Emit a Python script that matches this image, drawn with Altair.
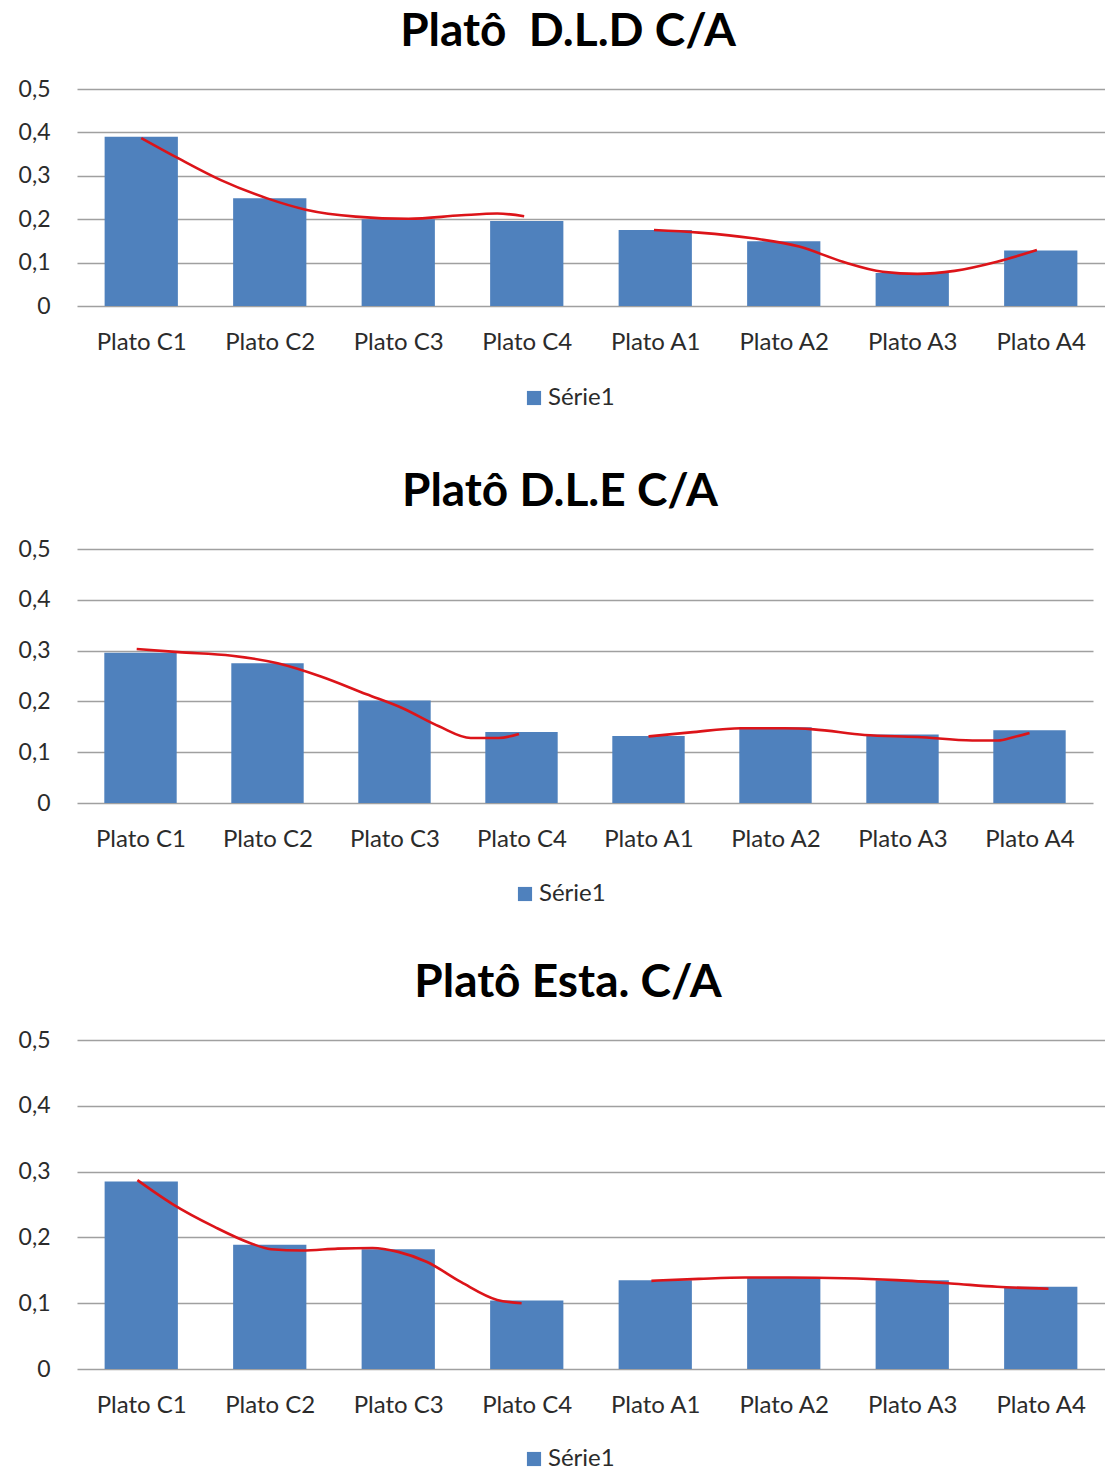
import altair as alt
import pandas as pd

# Category labels along the x axis and the single series name
categories = ["Plato C1", "Plato C2", "Plato C3", "Plato C4",
              "Plato A1", "Plato A2", "Plato A3", "Plato A4"]
series_name = "Série1"

# The first title keeps its double space (a no-break space stops SVG collapsing it)
titles = ["Platô\u00a0 D.L.D C/A", "Platô D.L.E C/A", "Platô Esta. C/A"]

# Bar heights per panel
dld_values = [0.390, 0.248, 0.200, 0.196, 0.175, 0.149, 0.076, 0.128]
dle_values = [0.296, 0.275, 0.202, 0.140, 0.132, 0.149, 0.135, 0.143]
esta_values = [0.285, 0.189, 0.182, 0.104, 0.135, 0.139, 0.135, 0.125]

# Freehand red trend strokes: positions are in category units (0 = Plato C1)
dld_c_pos = [0.0, 0.29, 0.62, 0.98, 1.28, 1.67, 2.08, 2.49, 2.77, 2.98]
dld_c_val = [0.387, 0.340, 0.290, 0.248, 0.222, 0.206, 0.201, 0.209, 0.213, 0.207]
dld_a_pos = [3.99, 4.34, 4.76, 5.12, 5.46, 5.77, 6.04, 6.33, 6.66, 6.97]
dld_a_val = [0.175, 0.169, 0.156, 0.137, 0.102, 0.079, 0.074, 0.081, 0.102, 0.129]

dle_c_pos = [-0.03, 0.30, 0.72, 1.08, 1.42, 1.78, 2.06, 2.35, 2.60, 2.82, 2.98]
dle_c_val = [0.303, 0.297, 0.290, 0.275, 0.249, 0.214, 0.187, 0.151, 0.128, 0.128, 0.136]
dle_a_pos = [4.0, 4.33, 4.73, 5.07, 5.30, 5.70, 6.12, 6.55, 6.75, 6.88, 7.0]
dle_a_val = [0.131, 0.139, 0.147, 0.147, 0.145, 0.134, 0.130, 0.123, 0.123, 0.130, 0.138]

esta_c_pos = [-0.03, 0.24, 0.57, 0.84, 1.01, 1.25, 1.53, 1.80, 2.0, 2.22, 2.49, 2.77, 2.96]
esta_c_val = [0.287, 0.251, 0.216, 0.192, 0.182, 0.180, 0.183, 0.184, 0.178, 0.163, 0.132, 0.105, 0.100]
esta_a_pos = [3.97, 4.34, 4.70, 5.04, 5.47, 5.88, 6.30, 6.66, 7.06]
esta_a_val = [0.134, 0.137, 0.139, 0.139, 0.138, 0.135, 0.130, 0.125, 0.122]

FONT = "Lato"
BAR_BLUE = "#4F81BD"
TREND_RED = "#DC1419"
GRID = "#A0A0A0"
TEXT = "#2B2B2B"

cat_list = "[" + ",".join("'" + c + "'" for c in categories) + "]"
y_label = "datum.value == 0 ? '0' : replace(format(datum.value, '.1f'), '.', ',')"


def panel(title, values, strokes, width, height, legend_x, legend_y, title_dx):
    bars = pd.DataFrame({
        "pos": list(range(len(categories))),
        "category": categories,
        "value": values,
        "serie": series_name,
    })
    rows = []
    for name, (pos, val) in strokes.items():
        for p, v in zip(pos, val):
            rows.append({"pos": p, "value": v, "stroke": name})
    trend = pd.DataFrame(rows)

    x_scale = alt.Scale(domain=[-0.5, len(categories) - 0.5], nice=False, zero=False)
    y_scale = alt.Scale(domain=[0, 0.5], nice=False)
    x_axis = alt.Axis(values=list(range(len(categories))), labelExpr=cat_list + "[datum.value]",
                      grid=False, ticks=False, domain=False, labelFontSize=24,
                      labelColor=TEXT, labelPadding=24, labelFont=FONT, title=None)
    y_axis = alt.Axis(values=[0, 0.1, 0.2, 0.3, 0.4, 0.5], labelExpr=y_label,
                      grid=True, gridColor=GRID, gridWidth=1.5, ticks=False, domain=False,
                      labelFontSize=23, labelColor=TEXT, labelPadding=27,
                      labelFont=FONT, title=None)

    bar_layer = alt.Chart(bars).transform_calculate(
        x0="datum.pos - 0.285", x1="datum.pos + 0.285"
    ).mark_bar(opacity=1).encode(
        x=alt.X("x0:Q", scale=x_scale, axis=x_axis, title=None),
        x2="x1:Q",
        y=alt.Y("value:Q", scale=y_scale, axis=y_axis, title=None),
        y2=alt.datum(0),
        color=alt.Color("serie:N", scale=alt.Scale(range=[BAR_BLUE]),
                        legend=alt.Legend(title=None, orient="none", legendX=legend_x,
                                          legendY=legend_y, symbolType="square",
                                          symbolSize=200, symbolStrokeWidth=0,
                                          labelFontSize=24, labelFont=FONT,
                                          labelColor=TEXT, labelOffset=2)),
    )

    line_layer = alt.Chart(trend).mark_line(
        color=TREND_RED, strokeWidth=2.6, interpolate="monotone"
    ).encode(
        x=alt.X("pos:Q", scale=x_scale, title=None),
        y=alt.Y("value:Q", scale=y_scale, title=None),
        detail="stroke:N",
    )

    return alt.layer(bar_layer, line_layer).properties(
        width=width, height=height,
        title=alt.TitleParams(title, fontSize=46, font=FONT, fontWeight="bold",
                              color="#000000", anchor="middle", offset=22, dx=title_dx),
    )


p1 = panel(titles[0], dld_values, {"c": (dld_c_pos, dld_c_val), "a": (dld_a_pos, dld_a_val)},
           1028, 217, 445, 297, -23)
p2 = panel(titles[1], dle_values, {"c": (dle_c_pos, dle_c_val), "a": (dle_a_pos, dle_a_val)},
           1016, 254, 436, 333, -25)
p3 = panel(titles[2], esta_values, {"c": (esta_c_pos, esta_c_val), "a": (esta_a_pos, esta_a_val)},
           1028, 329, 445, 407, -23)

lower = alt.vconcat(p2, p3, spacing=54).resolve_scale(color="independent").resolve_legend(
    color="independent")

chart = alt.vconcat(p1, lower, spacing=59).resolve_scale(color="independent").resolve_legend(
    color="independent"
).properties(
    padding={"left": 18, "top": 9, "right": 0, "bottom": 0},
    background="white",
).configure_view(stroke=None)

chart.save("out.html", embed_options={"renderer": "svg", "actions": False})
